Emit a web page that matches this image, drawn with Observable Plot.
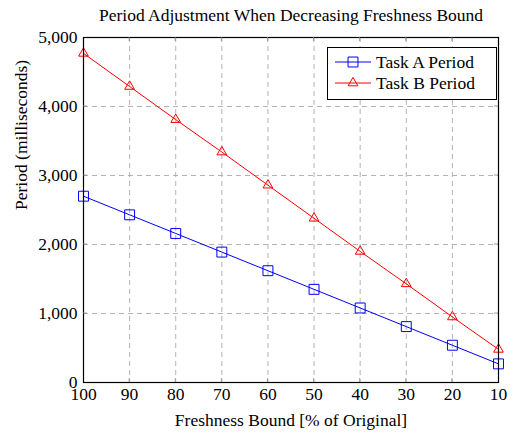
<!DOCTYPE html>
<html>
<head>
<meta charset="utf-8">
<script src="https://cdn.jsdelivr.net/npm/d3@7"></script>
<script src="https://cdn.jsdelivr.net/npm/@observablehq/plot@0.6"></script>
<style>
  body { margin: 0; background: #fff; }
  #chart svg { font-family: "Liberation Serif", "DejaVu Serif", serif; }
</style>
</head>
<body>
<div id="chart"></div>
<script>
const freshness = [100, 90, 80, 70, 60, 50, 40, 30, 20, 10];
const taskA = [2700, 2430, 2160, 1890, 1620, 1350, 1080, 810, 540, 270];
const taskB = [4770, 4290, 3810, 3340, 2860, 2380, 1900, 1430, 950, 480];
const yTicks = [0, 1000, 2000, 3000, 4000, 5000];
const seriesNames = ["Task A Period", "Task B Period"];
const title = "Period Adjustment When Decreasing Freshness Bound";
const xLabel = "Freshness Bound [% of Original]";
const yLabel = "Period (milliseconds)";

const dataA = freshness.map((f, i) => ({f, v: taskA[i]}));
const dataB = freshness.map((f, i) => ({f, v: taskB[i]}));

const FS = 17.5;
const plot = Plot.plot({
  width: 513,
  height: 437,
  marginLeft: 83,
  marginRight: 15,
  marginTop: 37,
  marginBottom: 55,
  style: {fontFamily: "'Liberation Serif', serif", fontSize: FS + "px", background: "#fff"},
  x: {domain: [100, 10], ticks: freshness, label: null},
  y: {domain: [0, 5000], ticks: yTicks, label: null, tickFormat: d3.format(",")},
  marks: [
    Plot.gridX(freshness.slice(1, -1), {stroke: "#aaa", strokeOpacity: 1, strokeDasharray: "5,4", strokeWidth: 0.9}),
    Plot.gridY(yTicks.slice(1, -1), {stroke: "#aaa", strokeOpacity: 1, strokeDasharray: "5,4", strokeWidth: 0.9}),
    Plot.axisX(freshness, {tickSize: 0, tickPadding: 5, fontSize: FS, fill: "#000", label: null}),
    Plot.axisY(yTicks, {tickSize: 0, tickPadding: 6, fontSize: FS, fill: "#000", tickFormat: d3.format(","), label: null}),
    Plot.line(dataA, {x: "f", y: "v", stroke: "#0000ff", strokeWidth: 1}),
    Plot.dot(dataA, {x: "f", y: "v", symbol: "square", r: 5.6, stroke: "#0000ff", fill: "none", strokeWidth: 1}),
    Plot.line(dataB, {x: "f", y: "v", stroke: "#ff0000", strokeWidth: 1}),
    Plot.dot(dataB, {x: "f", y: "v", symbol: "triangle", r: 3.6, stroke: "#ff0000", fill: "none", strokeWidth: 1}),
    Plot.frame({stroke: "#000", strokeWidth: 1.2}),
    Plot.text([title], {frameAnchor: "top", dy: -29, fontSize: FS, fill: "#000"}),
    Plot.text([xLabel], {frameAnchor: "bottom", dy: 43, fontSize: FS, fill: "#000"}),
    Plot.text([yLabel], {frameAnchor: "left", dx: -62, rotate: -90, fontSize: FS, fill: "#000"})
  ]
});
document.getElementById("chart").appendChild(plot);

const svg = d3.select(plot);
const xs = plot.scale("x"), ys = plot.scale("y");
const [yb, yt] = [ys.apply(0), ys.apply(5000)];
const [xl, xr] = [xs.apply(100), xs.apply(10)];
// inner tick marks (pgfplots style)
const tg = svg.append("g").attr("stroke", "#888").attr("stroke-width", 0.8);
freshness.slice(1, -1).forEach(f => {
  const x = xs.apply(f);
  tg.append("line").attr("x1", x).attr("x2", x).attr("y1", yb).attr("y2", yb - 4);
  tg.append("line").attr("x1", x).attr("x2", x).attr("y1", yt).attr("y2", yt + 4);
});
yTicks.slice(1, -1).forEach(v => {
  const y = ys.apply(v);
  tg.append("line").attr("x1", xl).attr("x2", xl + 4).attr("y1", y).attr("y2", y);
  tg.append("line").attr("x1", xr).attr("x2", xr - 4).attr("y1", y).attr("y2", y);
});

// Legend drawn inside the plot frame
const lg = svg.append("g").attr("font-family", "'Liberation Serif', serif").attr("font-size", FS).attr("text-anchor", "start");
lg.append("rect").attr("x", 327.5).attr("y", 47.5).attr("width", 169).attr("height", 52)
  .attr("fill", "#fff").attr("stroke", "#000").attr("stroke-width", 1);
const colors = ["#0000ff", "#ff0000"];
const symbols = [d3.symbolSquare, d3.symbolTriangle];
const sizes = [Math.PI * 5.6 * 5.6, Math.PI * 3.6 * 3.6];
seriesNames.forEach((name, i) => {
  const y = 62 + i * 21;
  lg.append("line").attr("x1", 335).attr("x2", 371).attr("y1", y).attr("y2", y)
    .attr("stroke", colors[i]).attr("stroke-width", 1);
  lg.append("path").attr("d", d3.symbol(symbols[i], sizes[i])())
    .attr("transform", `translate(353,${y})`).attr("fill", "none").attr("stroke", colors[i]);
  lg.append("text").attr("x", 376).attr("y", y).attr("dy", "0.35em").attr("fill", "#000").text(name);
});
</script>
</body>
</html>
